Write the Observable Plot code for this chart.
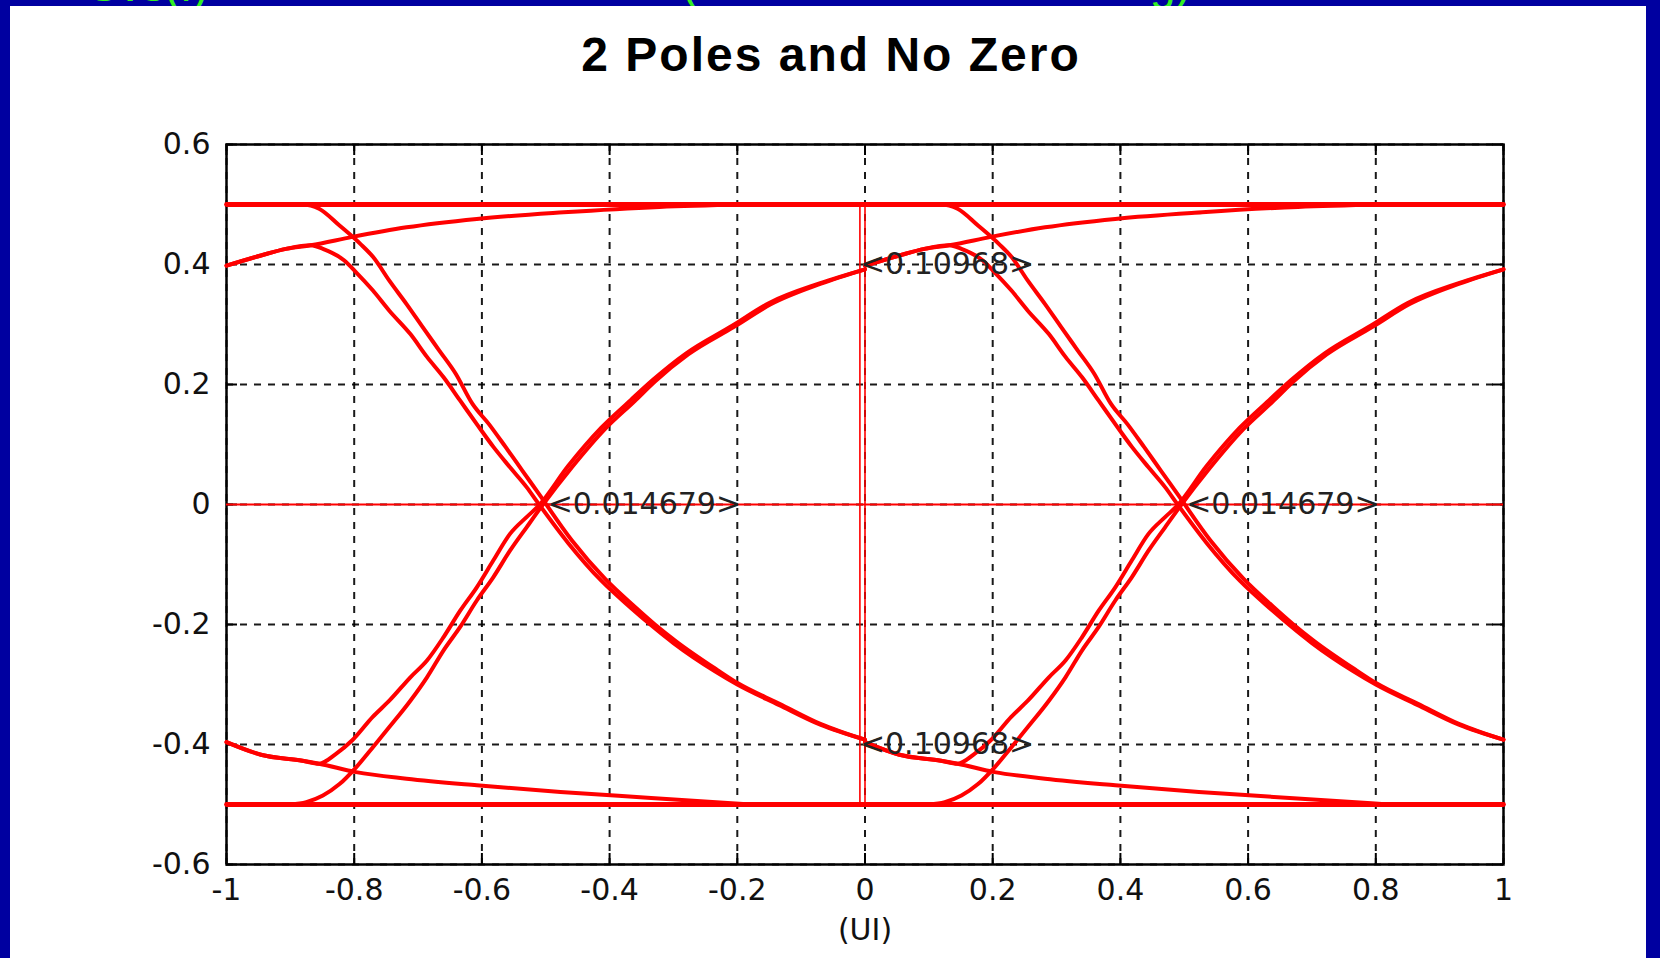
<!DOCTYPE html>
<html>
<head>
<meta charset="utf-8">
<script src="https://cdn.jsdelivr.net/npm/d3@7"></script>
<script src="https://cdn.jsdelivr.net/npm/@observablehq/plot@0.6"></script>
<style>
  html, body { margin: 0; padding: 0; }
  body { width: 1660px; height: 958px; background: #0000a0; position: relative; overflow: hidden; font-family: "DejaVu Sans", sans-serif; }
  #green { position: absolute; top: 0; left: 0; width: 1660px; height: 20px; color: #33ee22; font-family: "Liberation Sans", Arial, sans-serif; }
  #green span { position: absolute; font-size: 46px; line-height: 46px; }
  #panel { position: absolute; left: 10px; top: 6px; width: 1636px; height: 952px; background: #ffffff; }
  #title { position: absolute; left: 831px; top: 31px; transform: translateX(-50%); font-family: "Liberation Sans", Arial, sans-serif; font-weight: bold; font-size: 48px; line-height: 47px; letter-spacing: 2px; color: #000; white-space: nowrap; }
  #chart { position: absolute; left: 0; top: 0; }
</style>
</head>
<body>
<div id="green">
  <span style="left:88px; top:-38px;">Svs(f)</span>
  <span style="left:682px; top:-40px;">(</span>
  <span style="left:1150px; top:-40px;">g)</span>
</div>
<div id="panel"></div>
<div id="title">2 Poles and No Zero</div>
<div id="chart"></div>
<script>
// ---- tick values and labels ----
const xTicks = [-1, -0.8, -0.6, -0.4, -0.2, 0, 0.2, 0.4, 0.6, 0.8, 1];
const xTickLabels = ["-1", "-0.8", "-0.6", "-0.4", "-0.2", "0", "0.2", "0.4", "0.6", "0.8", "1"];
const yTicks = [-0.6, -0.4, -0.2, 0, 0.2, 0.4, 0.6];
const yTickLabels = ["-0.6", "-0.4", "-0.2", "0", "0.2", "0.4", "0.6"];
const xLabel = "(UI)";
const titleText = "2 Poles and No Zero";

// ---- eye traces within one UI window [-1, 0] (the picture repeats in [0, 1]) ----
// falling edge after a long run of ones
const f1X = [-0.90, -0.881, -0.855, -0.823, -0.790, -0.770, -0.745, -0.718, -0.693, -0.667, -0.641, -0.615, -0.589, -0.563, -0.537, -0.511, -0.459, -0.407, -0.361, -0.329, -0.296, -0.231, -0.199, -0.134, -0.069, 0];
const f1Y = [0.5, 0.5, 0.493, 0.465, 0.434, 0.412, 0.373, 0.334, 0.296, 0.257, 0.218, 0.168, 0.134, 0.096, 0.057, 0.018, -0.060, -0.124, -0.170, -0.200, -0.228, -0.276, -0.298, -0.332, -0.366, -0.392];
// falling edge after a single one
const f2X = [-1, -0.946, -0.907, -0.868, -0.849, -0.816, -0.797, -0.771, -0.745, -0.712, -0.686, -0.660, -0.634, -0.608, -0.582, -0.556, -0.530, -0.511, -0.465, -0.413, -0.367, -0.333, -0.300, -0.235, -0.200, -0.135, -0.070, 0];
const f2Y = [0.398, 0.415, 0.426, 0.432, 0.426, 0.407, 0.387, 0.357, 0.323, 0.284, 0.246, 0.212, 0.173, 0.134, 0.096, 0.062, 0.029, 0.001, -0.064, -0.127, -0.172, -0.203, -0.231, -0.278, -0.300, -0.334, -0.367, -0.392];
// single one followed by one
const h2X = [-1, -0.946, -0.907, -0.868, -0.803, -0.718, -0.608, -0.472, -0.322, -0.19];
const h2Y = [0.398, 0.415, 0.426, 0.432, 0.446, 0.462, 0.476, 0.487, 0.496, 0.5];
// rising edge after a long run of zeros
const r1X = [-0.90, -0.875, -0.849, -0.823, -0.797, -0.771, -0.745, -0.712, -0.686, -0.660, -0.634, -0.608, -0.582, -0.556, -0.530, -0.507, -0.459, -0.407, -0.361, -0.329, -0.277, -0.205, -0.147, -0.069, 0];
const r1Y = [-0.5, -0.496, -0.485, -0.466, -0.438, -0.405, -0.371, -0.327, -0.288, -0.243, -0.204, -0.160, -0.121, -0.077, -0.038, -0.004, 0.062, 0.126, 0.172, 0.205, 0.250, 0.296, 0.334, 0.368, 0.392];
// rising edge after a single zero
const r2X = [-1, -0.946, -0.881, -0.855, -0.829, -0.803, -0.771, -0.745, -0.712, -0.686, -0.660, -0.634, -0.608, -0.582, -0.556, -0.530, -0.511, -0.465, -0.413, -0.367, -0.333, -0.280, -0.208, -0.150, -0.070, 0];
const r2Y = [-0.396, -0.417, -0.427, -0.432, -0.416, -0.393, -0.354, -0.327, -0.288, -0.260, -0.221, -0.177, -0.138, -0.093, -0.049, -0.021, -0.002, 0.064, 0.128, 0.174, 0.207, 0.252, 0.298, 0.336, 0.369, 0.392];
// single zero followed by zero
const l2X = [-1, -0.946, -0.881, -0.855, -0.797, -0.718, -0.608, -0.477, -0.335, -0.18];
const l2Y = [-0.396, -0.417, -0.427, -0.432, -0.446, -0.457, -0.468, -0.479, -0.489, -0.5];
// steady levels over the full span
const levelX = [-1, 1];
const highY = [0.5, 0.5];
const lowY = [-0.5, -0.5];
// UI offsets of the two windows shown
const windowOffsets = [0, 1];

// sampling cursor (double line) and its span
const cursorX = [-0.008, 0];
const cursorSpan = [-0.5, 0.5];

// annotations
const annotX = [-0.008, -0.008, -0.497, 0.503];
const annotY = [0.40, -0.40, 0, 0];
const annotText = ["<0.10968>", "<0.10968>", "<0.014679>", "<0.014679>"];

// ---- build tables ----
const traceDefs = [
  {id: "f1", x: f1X, y: f1Y},
  {id: "f2", x: f2X, y: f2Y},
  {id: "h2", x: h2X, y: h2Y},
  {id: "r1", x: r1X, y: r1Y},
  {id: "r2", x: r2X, y: r2Y},
  {id: "l2", x: l2X, y: l2Y}
];
const traces = windowOffsets.flatMap(w => traceDefs.flatMap(t => t.x.map((x, i) => ({id: t.id + "_" + w, x: x + w, y: t.y[i]}))));
const levels = [
  ...levelX.map((x, i) => ({id: "high", x, y: highY[i]})),
  ...levelX.map((x, i) => ({id: "low", x, y: lowY[i]}))
];
const cursors = cursorX.map(x => ({x, y1: cursorSpan[0], y2: cursorSpan[1]}));
const annots = annotX.map((x, i) => ({x, y: annotY[i], text: annotText[i]}));

const W = 1660, H = 958;
const mL = 226, mR = 157, mT = 144, mB = 94;
const frameW = W - mL - mR, frameH = H - mT - mB;
const tickLen = 11;

const chart = Plot.plot({
  width: W,
  height: H,
  marginLeft: mL,
  marginRight: mR,
  marginTop: mT,
  marginBottom: mB,
  x: {domain: [-1, 1]},
  y: {domain: [-0.6, 0.6]},
  style: {background: "transparent", fontFamily: "DejaVu Sans, sans-serif", color: "#111", overflow: "visible"},
  marks: [
    Plot.gridX(xTicks, {stroke: "#000", strokeOpacity: 0.9, strokeWidth: 2, strokeDasharray: "7,7"}),
    Plot.gridY(yTicks, {stroke: "#000", strokeOpacity: 0.9, strokeWidth: 2, strokeDasharray: "7,7"}),
    Plot.tickX(xTicks, {x: d => d, stroke: "#000", strokeWidth: 2, insetTop: frameH - tickLen}),
    Plot.tickX(xTicks, {x: d => d, stroke: "#000", strokeWidth: 2, insetBottom: frameH - tickLen}),
    Plot.tickY(yTicks, {y: d => d, stroke: "#000", strokeWidth: 2, insetRight: frameW - tickLen}),
    Plot.tickY(yTicks, {y: d => d, stroke: "#000", strokeWidth: 2, insetLeft: frameW - tickLen}),
    Plot.frame({stroke: "#000", strokeWidth: 2.5}),
    Plot.ruleY([0], {stroke: "#ff0000", strokeWidth: 2}),
    Plot.ruleX(cursors, {x: "x", y1: "y1", y2: "y2", stroke: "#ff0000", strokeWidth: 1.6}),
    Plot.line(levels, {x: "x", y: "y", z: "id", stroke: "#ff0000", strokeWidth: 4.8}),
    Plot.line(traces, {x: "x", y: "y", z: "id", stroke: "#ff0000", strokeWidth: 4, strokeLinejoin: "round", curve: "monotone-x"}),
    Plot.text(annots, {x: "x", y: "y", text: "text", textAnchor: "start", fontSize: 30, fill: "#222", lineAnchor: "middle"}),
    Plot.axisX(xTicks, {tickSize: 0, tickPadding: 14, fontSize: 30, tickFormat: d => xTickLabels[xTicks.indexOf(d)], label: null}),
    Plot.axisY(yTicks, {tickSize: 0, tickPadding: 16, fontSize: 30, tickFormat: d => yTickLabels[yTicks.indexOf(d)], label: null}),
    Plot.text([xLabel], {frameAnchor: "bottom", dy: 66, fontSize: 30, fill: "#111", lineAnchor: "middle"})
  ]
});
document.getElementById("chart").appendChild(chart);
document.getElementById("title").textContent = titleText;
</script>
</body>
</html>
